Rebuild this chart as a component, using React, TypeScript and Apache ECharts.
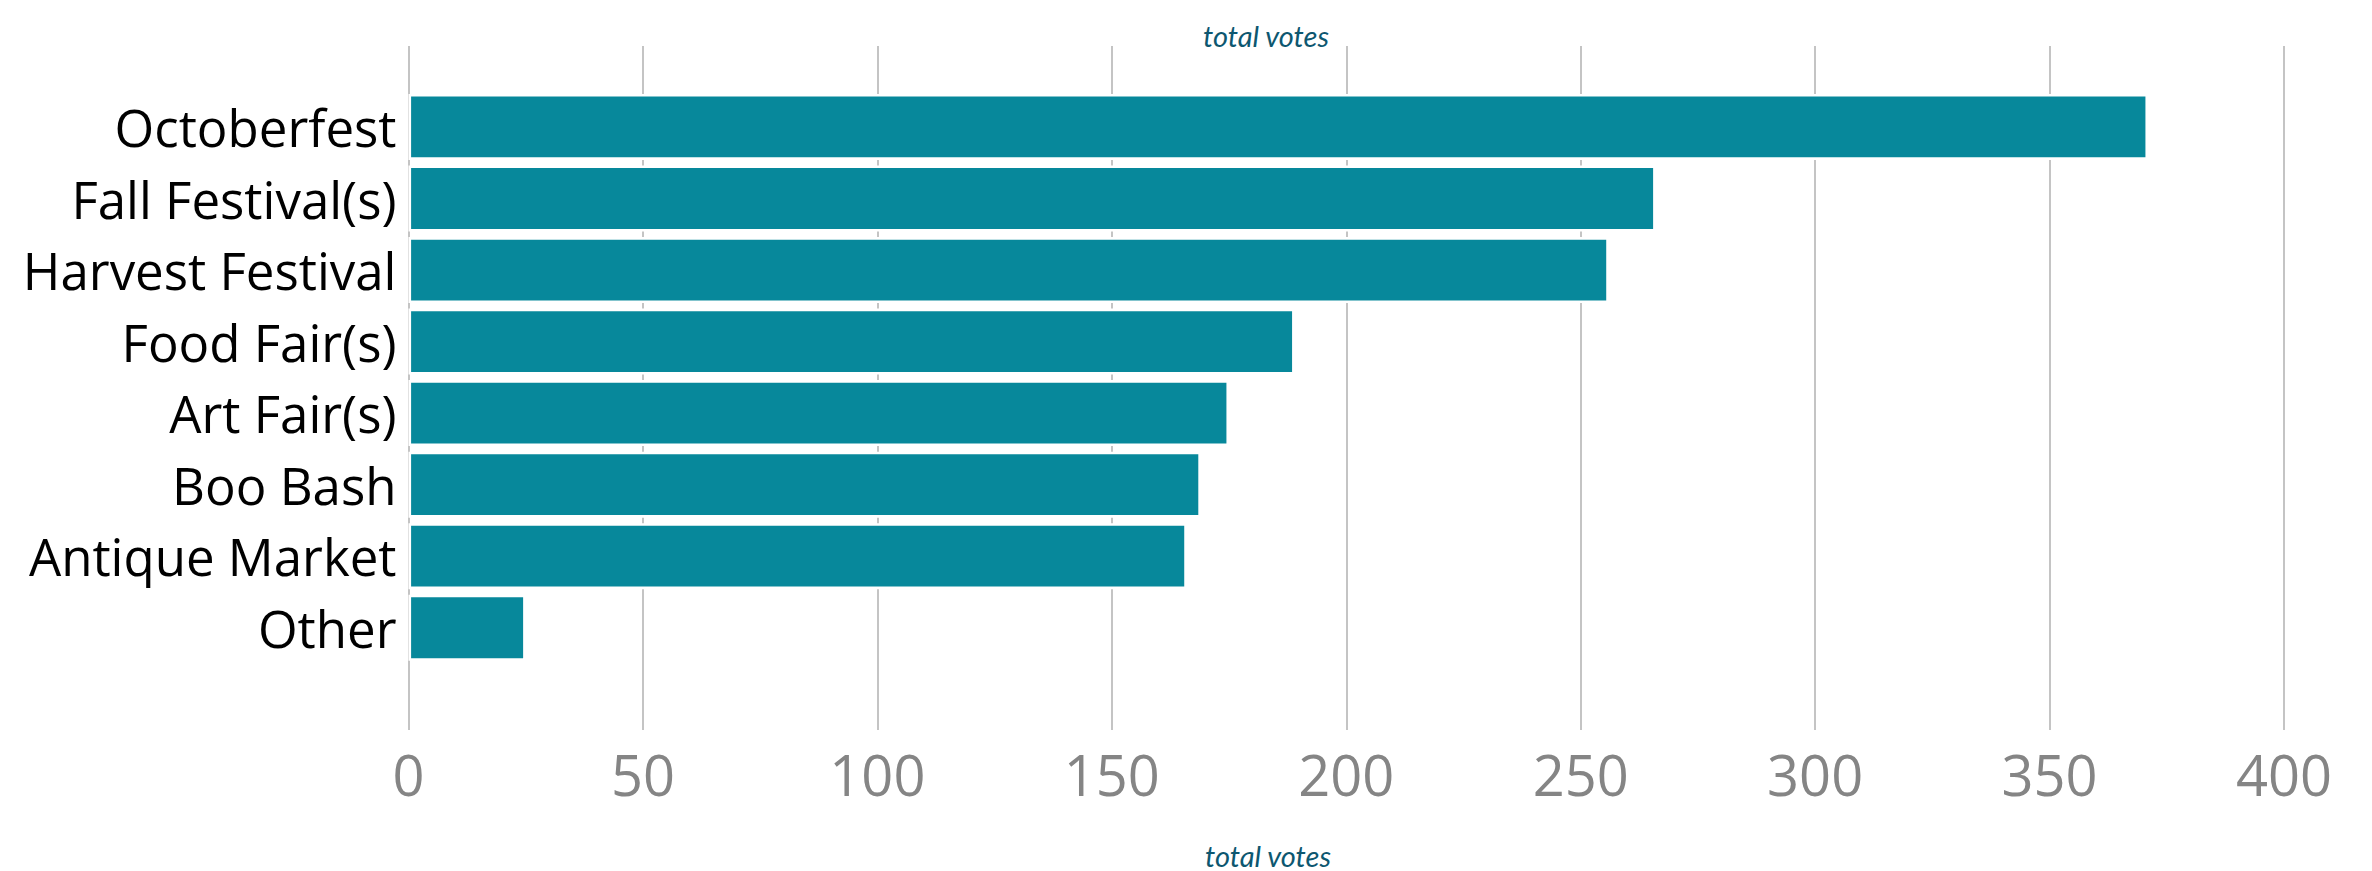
import React, { useEffect, useRef } from "react";
import * as echarts from "echarts";

const categories = [
  "Octoberfest",
  "Fall Festival(s)",
  "Harvest Festival",
  "Food Fair(s)",
  "Art Fair(s)",
  "Boo Bash",
  "Antique Market",
  "Other",
];
const votes = [371, 266, 256, 189, 175, 169, 166, 25];
const axisTitle = "total votes";
const xMin = 0;
const xMax = 400;
const xInterval = 50;

export default function App() {
  const ref = useRef<HTMLDivElement>(null);
  useEffect(() => {
    if (!ref.current) return;
    const chart = echarts.init(ref.current, null, { renderer: "svg" });
    const left = 408.5;
    const width = 1875.5;
    chart.setOption({
      animation: false,
      backgroundColor: "#ffffff",
      grid: [
        { left, width, top: 46, height: 684 },
        { left, width, top: 91.2, height: 572.3 },
      ],
      xAxis: [
        {
          gridIndex: 0,
          type: "value",
          min: xMin,
          max: xMax,
          interval: xInterval,
          axisLine: { show: false },
          axisTick: { show: false },
          splitLine: { show: true, lineStyle: { color: "#b0b0b0", width: 1.5 } },
          axisLabel: {
            color: "#858585",
            fontSize: 56,
            fontFamily: "Open Sans",
            margin: 16,
          },
        },
        {
          gridIndex: 1,
          type: "value",
          min: xMin,
          max: xMax,
          show: false,
          splitLine: { show: false },
        },
      ],
      yAxis: [
        {
          gridIndex: 0,
          type: "category",
          data: categories,
          show: false,
        },
        {
          gridIndex: 1,
          type: "category",
          data: categories,
          inverse: true,
          axisLine: { show: false },
          axisTick: { show: false },
          splitLine: { show: false },
          axisLabel: {
            color: "#000000",
            fontSize: 51,
            fontFamily: "Open Sans",
            margin: 12,
          },
        },
      ],
      graphic: [
        {
          type: "text",
          x: 1266,
          y: 35,
          style: {
            text: axisTitle,
            textAlign: "center",
            textVerticalAlign: "middle",
            font: "italic 29px Lato",
            lineHeight: 29,
            fill: "#0d5770",
          },
        },
        {
          type: "text",
          x: 1268,
          y: 855,
          style: {
            text: axisTitle,
            textAlign: "center",
            textVerticalAlign: "middle",
            font: "italic 29px Lato",
            lineHeight: 29,
            fill: "#0d5770",
          },
        },
      ],
      series: [
        {
          type: "bar",
          xAxisIndex: 1,
          yAxisIndex: 1,
          data: votes,
          barWidth: 66,
          itemStyle: {
            color: "#07889b",
            borderColor: "#ffffff",
            borderWidth: 2.6,
          },
        },
      ],
    });
    return () => chart.dispose();
  }, []);
  return (
    <div
      ref={ref}
      style={{ position: "absolute", left: 0, top: 0, width: 2372, height: 871 }}
    />
  );
}
